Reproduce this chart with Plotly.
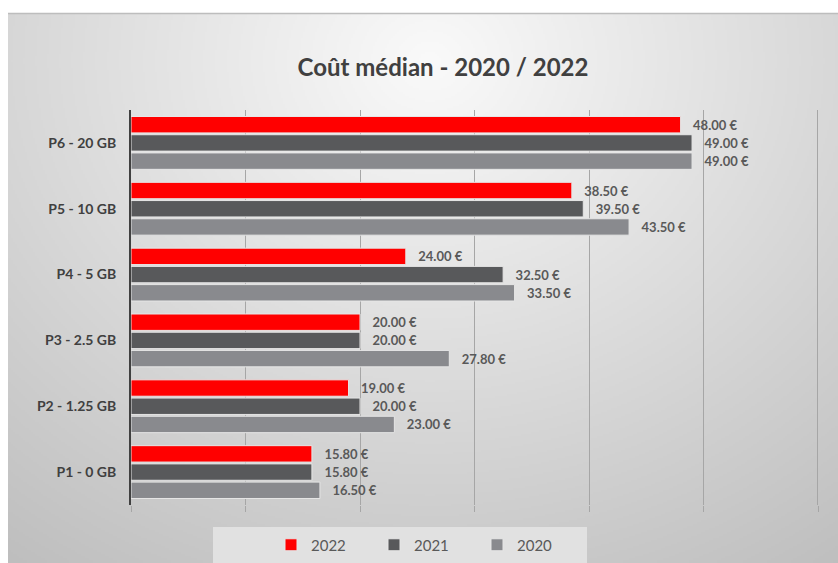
import base64, zlib, struct
import numpy as np
import plotly.graph_objects as go

categories = ["P1 - 0 GB", "P2 - 1.25 GB", "P3 - 2.5 GB", "P4 - 5 GB", "P5 - 10 GB", "P6 - 20 GB"]
values_2022 = [15.80, 19.00, 20.00, 24.00, 38.50, 48.00]
values_2021 = [15.80, 20.00, 20.00, 32.50, 39.50, 49.00]
values_2020 = [16.50, 23.00, 27.80, 33.50, 43.50, 49.00]
title_text = "Coût médian - 2020 / 2022"

W, H = 838, 563
L, R, T, B = 131, 818, 110, 505
pw, ph = R - L, B - T

# background gradient panel as PNG
gw, gh = 415, 275
xs = np.linspace(8, 838, gw)
ys = np.linspace(13, 563, gh)
X, Y = np.meshgrid(xs, ys)
r = np.sqrt(((X - 430) / 600) ** 2 + ((Y - 60) / 520) ** 2)
val = np.clip(250 - 50 * r, 0, 255).astype(np.uint8)

def make_png(arr):
    h, w = arr.shape
    raw = b"".join(b"\x00" + arr[i].tobytes() for i in range(h))
    def chunk(t, d):
        c = struct.pack(">I", len(d)) + t + d
        return c + struct.pack(">I", zlib.crc32(t + d) & 0xffffffff)
    return (b"\x89PNG\r\n\x1a\n" + chunk(b"IHDR", struct.pack(">IIBBBBB", w, h, 8, 0, 0, 0, 0))
            + chunk(b"IDAT", zlib.compress(raw, 9)) + chunk(b"IEND", b""))

img_src = "data:image/png;base64," + base64.b64encode(make_png(val)).decode()

def px_x(x):
    return (x - L) / pw

def px_y(y):
    return (B - y) / ph

fig = go.Figure()
series = [("2020", values_2020, "#898A8E"), ("2021", values_2021, "#58595B"), ("2022", values_2022, "#FF0000")]
for name, vals, col in series:
    fig.add_trace(go.Bar(
        y=categories, x=vals, name=name, orientation="h",
        marker=dict(color=col, line=dict(color="#E6E6E6", width=1)),
        texttemplate="\u00a0\u00a0\u00a0%{x:.2f} €", textposition="outside",
        textfont=dict(family="Lato", size=13, color="#595959", weight="bold"),
        cliponaxis=False,
    ))

fig.update_layout(
    width=W, height=H,
    margin=dict(l=L, r=W - R, t=T, b=H - B),
    paper_bgcolor="white", plot_bgcolor="rgba(0,0,0,0)",
    barmode="group", bargap=0.17, bargroupgap=0.1,
    title=dict(text=title_text, x=(296 + 590) / 2 / W, xref="container", xanchor="center",
               y=1 - 68 / H, yref="container", yanchor="middle",
               font=dict(family="Lato", size=24, color="#404040", weight="bold")),
    xaxis=dict(range=[0, 60], tickvals=[0, 10, 20, 30, 40, 50, 60], showticklabels=False,
               showgrid=True, gridcolor="#A6A6A6", gridwidth=1, zeroline=False,
               ticks="outside", ticklen=6, tickcolor="#A6A6A6", showline=False),
    yaxis=dict(showline=True, linecolor="#404040", linewidth=2, showgrid=False,
               tickfont=dict(family="Lato", size=14, color="#404040", weight="bold"),
               ticklabelstandoff=10),
    showlegend=True,
    legend=dict(orientation="h", traceorder="reversed", xref="container", yref="container",
                x=(271) / W, xanchor="left", y=(H - 545) / H, yanchor="middle",
                bgcolor="rgba(0,0,0,0)", entrywidth=58, entrywidthmode="pixels",
                itemwidth=30,
                font=dict(family="Lato", size=15, color="#595959")),
    images=[dict(source=img_src, xref="paper", yref="paper",
                 x=px_x(8), y=px_y(13), sizex=(838 - 8) / pw, sizey=(563 - 13) / ph,
                 xanchor="left", yanchor="top", sizing="stretch", layer="below")],
    shapes=[
        dict(type="rect", xref="paper", yref="paper", x0=px_x(213), x1=px_x(587),
             y0=px_y(563), y1=px_y(527), fillcolor="#E1E1E1", line=dict(width=0), layer="below"),
        dict(type="line", xref="paper", yref="paper", x0=px_x(8), x1=px_x(838),
             y0=px_y(13.5), y1=px_y(13.5), line=dict(color="#BDBDBD", width=1.5)),
        dict(type="line", xref="paper", yref="paper", x0=px_x(817.5), x1=px_x(817.5), y0=0, y1=1,
             line=dict(color="#A6A6A6", width=1), layer="below"),
    ],
)

fig.write_html("out.html", config={"displayModeBar": False},
               post_script="document.body.style.margin='0px';document.body.style.overflow='hidden';")
